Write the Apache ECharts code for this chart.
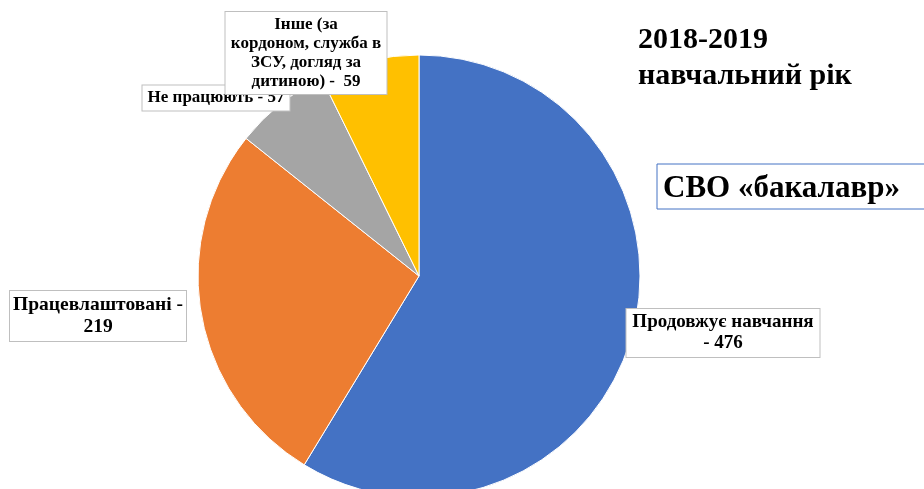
<!DOCTYPE html>
<html>
<head>
<meta charset="utf-8">
<script src="https://cdn.jsdelivr.net/npm/echarts@6/dist/echarts.min.js"></script>
<style>
  html, body { margin: 0; padding: 0; background: #fff; }
  #chart { width: 924px; height: 489px; }
</style>
</head>
<body>
<div id="chart"></div>
<script>
const categories = ['Продовжує навчання', 'Працевлаштовані', 'Не працюють', 'Інше (за кордоном, служба в ЗСУ, догляд за дитиною)'];
const values = [476, 219, 57, 59];
const colors = ['#4472C4', '#ED7D31', '#A5A5A5', '#FFC000'];
// label text as laid out in the picture (wrapped by hand)
const labelTexts = [
  'Продовжує навчання\n- 476',
  'Працевлаштовані -\n219',
  'Не працюють - 57',
  'Інше (за\nкордоном, служба в\nЗСУ, догляд за\nдитиною) -  59'
];
// label box center, font size and text width
const labelPos = [[723, 333], [98, 316], [216, 98], [306, 53]];
const labelSizes = [19, 19.5, 17, 17];
const labelWidths = [183, 166, 137, 151];

const font = '"Liberation Serif", "Times New Roman", serif';

let chart = echarts.init(document.getElementById('chart'));

let option = {
  animation: false,
  series: [{
    type: 'pie',
    center: [419, 276],
    radius: 221,
    startAngle: 90,
    clockwise: true,
    itemStyle: { borderColor: '#fff', borderWidth: 1 },
    label: {
      show: true,
      position: 'outside',
      formatter: p => labelTexts[p.dataIndex],
      fontFamily: font,
      fontWeight: 'bold',
      color: '#000',
      align: 'center',
      overflow: 'none',
      backgroundColor: '#fff',
      borderColor: '#BFBFBF',
      borderWidth: 1,
      padding: [3, 5, 3, 5]
    },
    labelLine: { show: false },
    labelLayout: p => ({
      x: labelPos[p.dataIndex][0],
      y: labelPos[p.dataIndex][1],
      align: 'center',
      verticalAlign: 'middle'
    }),
    data: categories.map((name, i) => ({
      name,
      value: values[i],
      itemStyle: { color: colors[i] },
      label: {
        fontSize: labelSizes[i],
        lineHeight: Math.round(labelSizes[i]) + 2,
        width: labelWidths[i]
      }
    }))
  }],
  graphic: [
    {
      type: 'text',
      left: 638,
      top: 22,
      style: {
        text: '2018-2019\nнавчальний рік',
        font: 'bold 30px ' + font,
        lineHeight: 36,
        fill: '#000'
      }
    },
    {
      type: 'rect',
      shape: { x: 657, y: 164, width: 280, height: 45 },
      style: { fill: '#fff', stroke: '#4472C4', lineWidth: 1 }
    },
    {
      type: 'text',
      left: 663,
      top: 173,
      style: {
        text: 'СВО «бакалавр»',
        font: 'bold 31px ' + font,
        fill: '#000'
      }
    }
  ]
};

chart.setOption(option);
</script>
</body>
</html>
